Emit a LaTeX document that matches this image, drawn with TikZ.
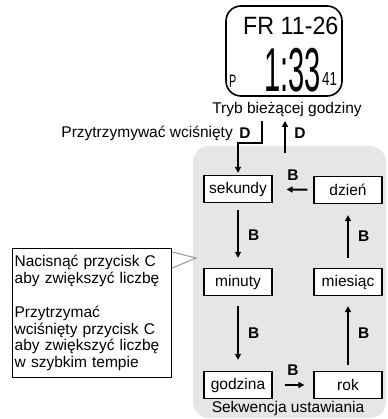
\documentclass[tikz,border=0pt]{standalone}
\usepackage{fontspec}
\setmainfont{Liberation Sans}
\usetikzlibrary{arrows.meta}
\definecolor{panel}{RGB}{230,230,233}
\definecolor{pinline}{RGB}{150,150,150}
\begin{document}
\begin{tikzpicture}[
    x = 1pt,
    y = -1pt,
    >={Triangle[length=6pt,width=6pt]},
    txt/.style = {inner sep=0pt, font=\fontsize{15.5}{16.8}\selectfont},
    field/.style = {draw=black, line width=1.3pt, fill=white, minimum width=68pt,
              minimum height=27pt, inner sep=0pt, font=\fontsize{15.5}{16.8}\selectfont},
    key/.style = {inner sep=0pt, font=\fontsize{15.5}{16.8}\selectfont\bfseries},
    flow/.style = {->, line width=2pt, shorten >=10pt, shorten <=8pt},
    lcd/.style = {inner sep=0pt, anchor=base west},
    ]
\useasboundingbox (0,0) rectangle (387,419);

% setting area
\fill[panel, rounded corners=16pt] (193,146) rectangle (386,418);

% watch display
\draw[line width=1.6pt, rounded corners=15pt] (226,6) rectangle (342,96);
\node[lcd, xscale=0.93, font=\fontsize{25}{25}\selectfont] (date) at (243,35) {FR 11-26};
\node[lcd, xscale=0.6, font=\fontsize{18}{18}\selectfont] (pm) at (229,88) {P};
\node[lcd, xscale=0.47, font=\fontsize{62}{62}\selectfont] (time) at (264,92) {1:33};
\node[lcd, xscale=0.7, font=\fontsize{19}{19}\selectfont] (secs) at (322,86) {41};

\node[txt] (mode) at (287,110) {Tryb bieżącej godziny};

% D buttons
\node[txt, anchor=east] (hold) at (233,133) {Przytrzymywać wciśnięty};
\node[key] (dhold) at (245,133) {D};
\node[key] (dret) at (300,133) {D};
\coordinate (holdtop) at (262,121);
\coordinate (retbot) at (285,153);
\coordinate (rettop) at (285,121);

% setting fields
\node[field] (sec) at (238,189) {sekundy};
\node[field] (day) at (348,190) {dzień};
\node[field] (min) at (238,282) {minuty};
\node[field] (mon) at (348,282) {miesiąc};
\node[field] (hour) at (238,385) {godzina};
\node[field] (year) at (348,385) {rok};

\draw[->, line width=2pt, shorten >=2pt] (holdtop) -- ++(0,22) -| (sec.north);
\draw[->, line width=2pt] (retbot) -- (rettop);

\draw[flow, shorten >=14pt, shorten <=6pt] (day) -- node[key, above=8pt] {B} (sec);
\draw[flow, shorten >=10pt, shorten <=7pt] (sec) -- node[key, right=9pt] {B} (min);
\draw[flow, shorten >=11pt, shorten <=10pt] (min) -- node[key, right=9pt] {B} (hour);
\draw[flow, shorten >=9pt, shorten <=12pt] (hour) -- node[key, above=9pt] {B} (year);
\draw[flow, shorten >=10pt, shorten <=6pt] (year) -- node[key, right=9pt] {B} (mon);
\draw[flow, shorten >=11pt, shorten <=10pt] (mon) -- node[key, right=9pt] {B} (day);

\node[txt] (seq) at (288,408) {Sekwencja ustawiania};

% note on button C
\node[draw=black, line width=1.3pt, fill=white, anchor=north west, minimum width=159pt,
      minimum height=129pt, text width=155pt, inner sep=2pt, align=left,
      font=\fontsize{15.5}{16.8}\selectfont] (note) at (12,248)
      {Nacisnąć przycisk C\\aby zwiększyć liczbę\\[16.8pt]Przytrzymać\\wciśnięty przycisk C\\aby zwiększyć liczbę\\w szybkim tempie};
\coordinate (pin) at (196,258);
\draw[pinline, line width=1pt] ([yshift=-4pt]note.north east) -- (pin) -- ([yshift=-20pt]note.north east);

\end{tikzpicture}
\end{document}
